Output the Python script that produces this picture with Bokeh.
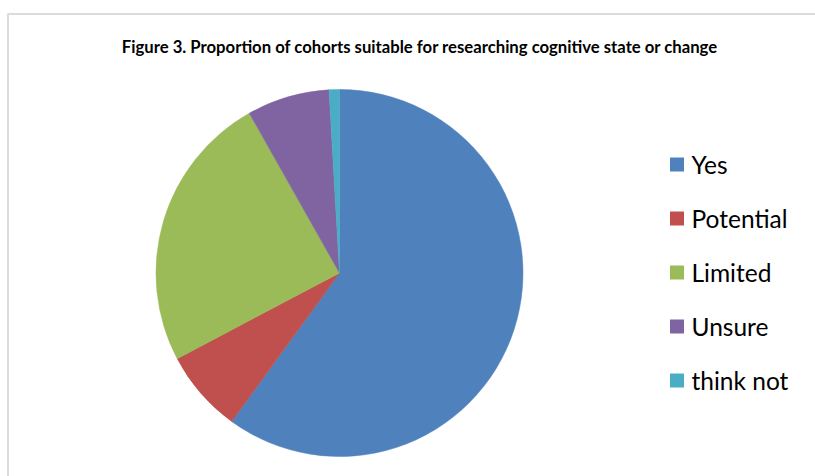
import math
from bokeh.plotting import figure
from bokeh.models import ColumnDataSource, Range1d, BoxAnnotation
from bokeh.core.properties import value
from bokeh.embed import file_html
from bokeh.resources import INLINE

# Cohort suitability counts
categories = ["Yes", "Potential", "Limited", "Unsure", "think not"]
counts = [66, 8, 27, 8, 1]
colors = ["#4F81BD", "#C0504D", "#9BBB59", "#8064A2", "#4BACC6"]
title_text = "Figure 3. Proportion of cohorts suitable for researching cognitive state or change"

W, H = 815, 476

# slices run clockwise from twelve o'clock
total = sum(counts)
starts, ends = [], []
acc = 0
for c in counts:
    a0 = math.pi / 2 - 2 * math.pi * (acc + c) / total
    a1 = math.pi / 2 - 2 * math.pi * acc / total
    starts.append(a0)
    ends.append(a1)
    acc += c

pie_src = ColumnDataSource(dict(cat=categories, count=counts, color=colors,
                                start=starts, end=ends))

p = figure(width=W, height=H, output_backend="svg", toolbar_location=None,
           x_range=Range1d(0, W), y_range=Range1d(0, H),
           x_axis_type=None, y_axis_type=None, min_border=0,
           background_fill_color="white", border_fill_color="white")
p.grid.visible = False
p.outline_line_color = None

# chart area frame
p.add_layout(BoxAnnotation(left=7.5, right=W + 20, top=H - 13.5, bottom=-20,
                           fill_alpha=0, line_color="#888888", line_width=2))

cx, cy, r = 339, H - 272.5, 183.5
p.wedge(x=cx, y=cy, radius=r, start_angle="start", end_angle="end",
        fill_color="color", line_color="color", line_width=0.5, source=pie_src)

# title
p.text(x=[419.5], y=[H - 46], text=[title_text], text_align="center",
       text_baseline="middle", text_font=value("Lato"), text_font_style="bold",
       text_font_size="16.7px", text_color="black")

# legend
ys = [H - (164 + 54 * i) for i in range(len(categories))]
leg_src = ColumnDataSource(dict(cat=categories, color=colors, y=ys,
                                x=[676.5] * len(categories), tx=[691] * len(categories)))
p.rect(x="x", y="y", width=14, height=14, fill_color="color", line_color=None,
       source=leg_src)
p.text(x="tx", y="y", text="cat", text_align="left", text_baseline="middle",
       text_font=value("Lato"), text_font_size="24.5px", text_color="black",
       source=leg_src)

open("out.html", "w").write(file_html(p, INLINE))
